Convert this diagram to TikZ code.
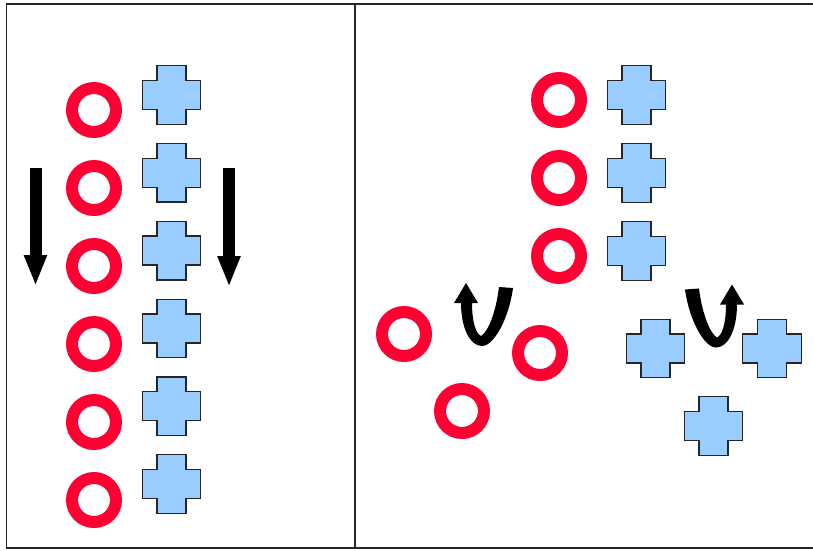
\documentclass[tikz,border=0pt]{standalone}
\usetikzlibrary{arrows.meta}
\definecolor{ringred}{HTML}{FF0033}
\definecolor{plusblue}{HTML}{99CCFF}
\tikzset{
  ring/.style={circle, draw=ringred, line width=12pt, minimum size=44pt, inner sep=0pt},
  plusshape/.style={fill=plusblue, draw=black!85, line width=1.3pt, line join=miter},
  plus/.pic={\path[plusshape] (-29.25,-14.5) -- (-14.5,-14.5) -- (-14.5,-29.25) -- (14.5,-29.25)
     -- (14.5,-14.5) -- (29.25,-14.5) -- (29.25,14.5) -- (14.5,14.5) -- (14.5,29.25)
     -- (-14.5,29.25) -- (-14.5,14.5) -- (-29.25,14.5) -- cycle;},
  frameline/.style={draw=black!85, line width=1.5pt},
  downarrow/.style={line width=12pt, -{Triangle[width=21pt,length=31pt]}},
  turnarrow/.style={fill=black},
}
\begin{document}
\begin{tikzpicture}[x=1pt,y=-1pt]
\useasboundingbox (0,0) rectangle (813,550);
\clip (0,0) rectangle (813,550);
% frame
\draw[frameline] (6.5,4) rectangle (840,548);
\coordinate (divtop) at (355,4);
\coordinate (divbot) at (355,548);
\draw[frameline] (divtop) -- (divbot);
% left panel
\foreach \i in {0,...,5}{
  \node[ring] (lc\i) at (94,{110+78*\i}) {};
  \pic (lp\i) at (171.5,{95+77.8*\i}) {plus};
}
\coordinate (a1s) at (35.5,168);
\coordinate (a1e) at (35.5,286);
\coordinate (a2s) at (229,168);
\coordinate (a2e) at (229,287);
\draw[downarrow] (a1s) -- (a1e);
\draw[downarrow] (a2s) -- (a2e);
% right panel column
\foreach \i in {0,1,2}{
  \node[ring] (rc\i) at (559,{100+78*\i}) {};
  \pic (rp\i) at (636.5,{95+78*\i}) {plus};
}
% scattered circles
\node[ring] (sc1) at (404,334) {};
\node[ring] (sc2) at (540,353) {};
\node[ring] (sc3) at (462,411) {};
% scattered crosses
\pic (sp1) at (655.5,348.5) {plus};
\pic (sp2) at (772,348.5) {plus};
\pic (sp3) at (713.5,426) {plus};
% turning arrows
\path[turnarrow] (513,288) .. controls (509,318) and (494,346) .. (482,346)
  .. controls (470,346) and (461,328) .. (461,303)
  -- (454,303) -- (466,283) -- (478,303) -- (472,303)
  .. controls (472,322) and (476,334) .. (481,336)
  .. controls (488,332) and (496,312) .. (499,287) -- cycle;
\begin{scope}[xshift=1198pt, xscale=-1, yshift=-1.5pt]
\path[turnarrow] (513,288) .. controls (509,318) and (494,346) .. (482,346)
  .. controls (470,346) and (461,328) .. (461,303)
  -- (454,303) -- (466,283) -- (478,303) -- (472,303)
  .. controls (472,322) and (476,334) .. (481,336)
  .. controls (488,332) and (496,312) .. (499,287) -- cycle;
\end{scope}
\end{tikzpicture}
\end{document}
